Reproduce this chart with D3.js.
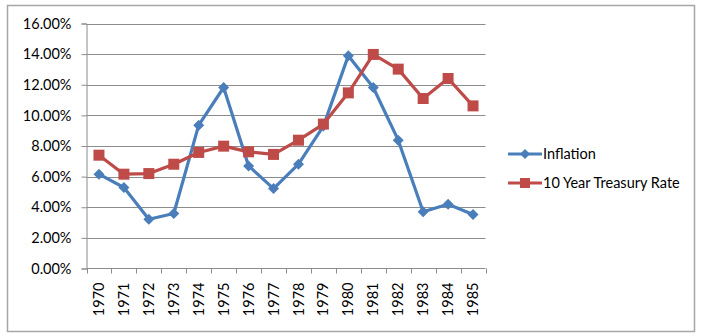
<!DOCTYPE html>
<html>
<head>
<meta charset="utf-8">
<script src="https://cdn.jsdelivr.net/npm/d3@7"></script>
<style>
  html, body { margin: 0; padding: 0; background: #fff; }
  svg { display: block; font-family: Lato, "Open Sans", sans-serif; }
</style>
</head>
<body>
<svg id="chart" width="703" height="336"></svg>
<script>
// Years on the category axis
const years = ["1970","1971","1972","1973","1974","1975","1976","1977","1978","1979","1980","1981","1982","1983","1984","1985"];
// Annual inflation (%)
const inflation = [6.16, 5.29, 3.22, 3.59, 9.36, 11.82, 6.70, 5.22, 6.81, 9.30, 13.90, 11.82, 8.38, 3.70, 4.20, 3.53];
// 10 year treasury rate (%)
const treasury = [7.40, 6.16, 6.20, 6.81, 7.58, 7.99, 7.62, 7.45, 8.38, 9.43, 11.47, 13.98, 13.02, 11.10, 12.41, 10.62];
// Value axis ticks (%)
const yTicks = [0, 2, 4, 6, 8, 10, 12, 14, 16];

const seriesList = [
  { name: "Inflation", values: inflation, color: "#4a7ebb", marker: "diamond" },
  { name: "10 Year Treasury Rate", values: treasury, color: "#be4b48", marker: "square" }
];

const FONT = "Lato, 'Open Sans', sans-serif";
const FS = 14.5;

const svg = d3.select("#chart");
const plot = { left: 86.5, right: 485.5, top: 23.5, bottom: 268.5 };

// Chart frame
svg.append("rect")
  .attr("x", 7.5).attr("y", 5.5).attr("width", 687).attr("height", 326)
  .attr("fill", "#fff").attr("stroke", "#a6a6a6").attr("stroke-width", 1.5);

const x = d3.scaleBand().domain(years).range([plot.left, plot.right]);
const y = d3.scaleLinear().domain([0, 16]).range([plot.bottom, plot.top]);

// Horizontal gridlines
svg.append("g").selectAll("line").data(yTicks.slice(1)).join("line")
  .attr("x1", plot.left).attr("x2", plot.right)
  .attr("y1", d => Math.round(y(d)) + 0.5).attr("y2", d => Math.round(y(d)) + 0.5)
  .attr("stroke", "#8c8c8c").attr("stroke-width", 1);

// Value axis
const yAxis = svg.append("g")
  .attr("transform", `translate(${plot.left},0)`)
  .call(d3.axisLeft(y).tickValues(yTicks).tickSize(5).tickPadding(10)
    .tickFormat(d => d.toFixed(2) + "%"));
yAxis.select(".domain").attr("stroke", "#8c8c8c");
yAxis.selectAll(".tick line").attr("stroke", "#8c8c8c");
yAxis.selectAll("text").attr("font-size", FS).attr("fill", "#000")
  .attr("font-family", FONT);

// Category axis with boundary ticks
const xAxis = svg.append("g")
  .attr("transform", `translate(0,${plot.bottom})`)
  .call(d3.axisBottom(x).tickSize(0).tickPadding(0));
xAxis.select(".domain").attr("stroke", "#8c8c8c").attr("d", `M${plot.left},0H${plot.right}`);
xAxis.selectAll(".tick text")
  .attr("transform", "rotate(-90)")
  .attr("text-anchor", "end")
  .attr("dy", "0.35em")
  .attr("x", -14).attr("y", 0)
  .attr("font-size", FS).attr("fill", "#000")
  .attr("font-family", FONT);
const bounds = years.map(d => x(d)).concat([x(years[years.length - 1]) + x.bandwidth()]);
xAxis.append("g").selectAll("line").data(bounds).join("line")
  .attr("x1", d => Math.round(d) + 0.5).attr("x2", d => Math.round(d) + 0.5)
  .attr("y1", 0).attr("y2", 5).attr("stroke", "#8c8c8c");

const cx = d => x(d) + x.bandwidth() / 2;
const line = d3.line().x(d => cx(d.year)).y(d => y(d.v));

const diamond = s => `M0,${-s}L${s},0L0,${s}L${-s},0Z`;
const square = s => `M${-s},${-s}H${s}V${s}H${-s}Z`;

seriesList.forEach(s => {
  const pts = years.map((yr, i) => ({ year: yr, v: s.values[i] }));
  const g = svg.append("g");
  g.append("path").datum(pts).attr("d", line)
    .attr("fill", "none").attr("stroke", s.color).attr("stroke-width", 3.2)
    .attr("stroke-linejoin", "round");
  g.selectAll("path.m").data(pts).join("path").attr("class", "m")
    .attr("transform", d => `translate(${cx(d.year)},${y(d.v)})`)
    .attr("d", s.marker === "diamond" ? diamond(5.5) : square(5.5))
    .attr("fill", s.color);
});

// Legend
const legend = svg.append("g");
seriesList.forEach((s, i) => {
  const ly = 154 + i * 29;
  const g = legend.append("g").attr("transform", `translate(0,${ly})`);
  g.append("line").attr("x1", 508).attr("x2", 542).attr("y1", 0).attr("y2", 0)
    .attr("stroke", s.color).attr("stroke-width", 3.2);
  g.append("path").attr("transform", "translate(525,0)")
    .attr("d", s.marker === "diamond" ? diamond(5) : square(5)).attr("fill", s.color);
  g.append("text").attr("x", 543).attr("y", 0).attr("dy", "0.35em")
    .attr("font-size", FS).attr("font-family", FONT).attr("fill", "#000").text(s.name);
});
</script>
</body>
</html>
